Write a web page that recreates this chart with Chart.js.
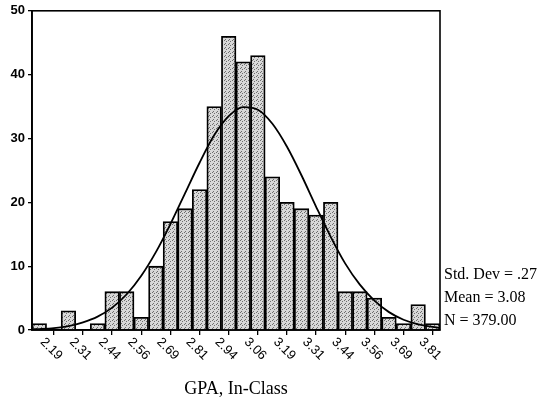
<!DOCTYPE html>
<html>
<head>
<meta charset="utf-8">
<script src="https://cdn.jsdelivr.net/npm/chart.js@4/dist/chart.umd.min.js"></script>
<style>
  html, body { margin: 0; padding: 0; background: #fff; }
  canvas { display: block; }
</style>
</head>
<body>
<canvas id="c" width="542" height="410"></canvas>
<script>
// ---- data ----
const binMids = [2.1875, 2.25, 2.3125, 2.375, 2.4375, 2.5, 2.5625, 2.625, 2.6875, 2.75,
                 2.8125, 2.875, 2.9375, 3.0, 3.0625, 3.125, 3.1875, 3.25, 3.3125, 3.375,
                 3.4375, 3.5, 3.5625, 3.625, 3.6875, 3.75, 3.8125, 3.875];
const counts = [1, 0, 3, 0, 1, 6, 6, 2, 10, 17,
                19, 22, 35, 46, 42, 43, 24, 20, 19, 18,
                20, 6, 6, 5, 2, 1, 4, 1];
const tickLabels = ['2.19', '2.31', '2.44', '2.56', '2.69', '2.81', '2.94',
                    '3.06', '3.19', '3.31', '3.44', '3.56', '3.69', '3.81'];
const curveX = [2.15625, 2.1875, 2.25, 2.3125, 2.375, 2.4375, 2.5, 2.5625, 2.625, 2.6875,
                2.75, 2.8125, 2.875, 2.9375, 3.0, 3.0625, 3.125, 3.1875, 3.25, 3.3125,
                3.375, 3.4375, 3.5, 3.5625, 3.625, 3.6875, 3.75, 3.8125, 3.875, 3.90625];
const curveY = [0.1, 0.15, 0.3, 0.6, 1.2, 2.1, 3.5, 5.6, 8.5, 12.2,
                16.6, 21.4, 26.2, 30.5, 33.5, 34.9, 34.5, 32.3, 28.7, 24.2,
                19.3, 14.6, 10.4, 7.1, 4.6, 2.8, 1.6, 0.9, 0.5, 0.3];
const xTitle = 'GPA, In-Class';
const statLines = ['Std. Dev = .27', 'Mean = 3.08', 'N = 379.00'];
const xMin = 2.15625, xMax = 3.90625;

// ---- derived ----
const tickValues = binMids.filter((v, i) => i % 2 === 0).slice(0, tickLabels.length);

const canvas = document.getElementById('c');
const ctx = canvas.getContext('2d');

function makePattern() {
  const c = document.createElement('canvas');
  c.width = 4; c.height = 4;
  const g = c.getContext('2d');
  g.fillStyle = '#d8d8d8';
  g.fillRect(0, 0, 4, 4);
  g.fillStyle = '#6e6e6e';
  g.fillRect(0, 0, 1, 1);
  g.fillRect(2, 1, 1, 1);
  g.fillRect(1, 3, 1, 1);
  return ctx.createPattern(c, 'repeat');
}

const overlay = {
  id: 'overlay',
  afterDraw(chart) {
    const c = chart.ctx;
    const a = chart.chartArea;
    const xs = chart.scales.x;
    c.save();
    // box
    c.strokeStyle = '#000';
    c.lineWidth = 1.6;
    c.strokeRect(a.left, a.top, a.right - a.left, a.bottom - a.top);
    // rotated x tick labels
    c.fillStyle = '#000';
    c.font = '13px "Liberation Sans", Arial, sans-serif';
    c.textAlign = 'left';
    c.textBaseline = 'middle';
    tickValues.forEach((v, i) => {
      const px = xs.getPixelForValue(v);
      c.save();
      c.translate(px + 3, a.bottom + 10);
      c.rotate(Math.PI / 4);
      c.fillText(tickLabels[i], 0, 0);
      c.restore();
    });
    // stats text
    c.font = '16px "Liberation Serif", "Times New Roman", serif';
    c.textBaseline = 'middle';
    const ys = [275, 298, 321];
    statLines.forEach((t, i) => c.fillText(t, a.right + 4, ys[i]));
    c.restore();
  }
};

new Chart(ctx, {
  data: {
    datasets: [
      {
        type: 'line',
        order: 0,
        data: curveX.map((x, i) => ({ x: x, y: curveY[i] })),
        borderColor: '#000',
        borderWidth: 1.8,
        pointRadius: 0,
        fill: false,
        cubicInterpolationMode: 'monotone'
      },
      {
        type: 'bar',
        order: 1,
        data: binMids.map((x, i) => ({ x: x, y: counts[i] })),
        backgroundColor: makePattern(),
        borderColor: '#000',
        borderWidth: 1.8,
        barPercentage: 1,
        categoryPercentage: 1
      }
    ]
  },
  options: {
    responsive: false,
    animation: false,
    devicePixelRatio: 1,
    layout: { padding: { top: 9, right: 102, left: 0, bottom: 0 } },
    plugins: { legend: { display: false }, tooltip: { enabled: false } },
    scales: {
      x: {
        type: 'linear',
        min: xMin,
        max: xMax,
        offset: false,
        afterBuildTicks: s => { s.ticks = tickValues.map(v => ({ value: v })); },
        afterFit: s => { s.height = 80; },
        ticks: { display: false },
        grid: { drawOnChartArea: false, drawTicks: true, tickLength: 5, color: '#000', lineWidth: 1.3 },
        border: { display: true, color: '#000', width: 1.8 },
        title: {
          display: true,
          text: xTitle,
          color: '#000',
          font: { family: '"Liberation Serif", "Times New Roman", serif', size: 18 },
          padding: { top: 0, bottom: 10 }
        }
      },
      y: {
        min: 0,
        max: 50,
        afterFit: s => { s.width = 32; },
        ticks: {
          stepSize: 10,
          color: '#000',
          padding: 3,
          font: { family: '"Liberation Sans", Arial, sans-serif', size: 13, weight: 'bold' }
        },
        grid: { drawOnChartArea: false, drawTicks: true, tickLength: 4, color: '#000', lineWidth: 1.3 },
        border: { display: true, color: '#000', width: 1.8 }
      }
    }
  },
  plugins: [overlay]
});
</script>
</body>
</html>
